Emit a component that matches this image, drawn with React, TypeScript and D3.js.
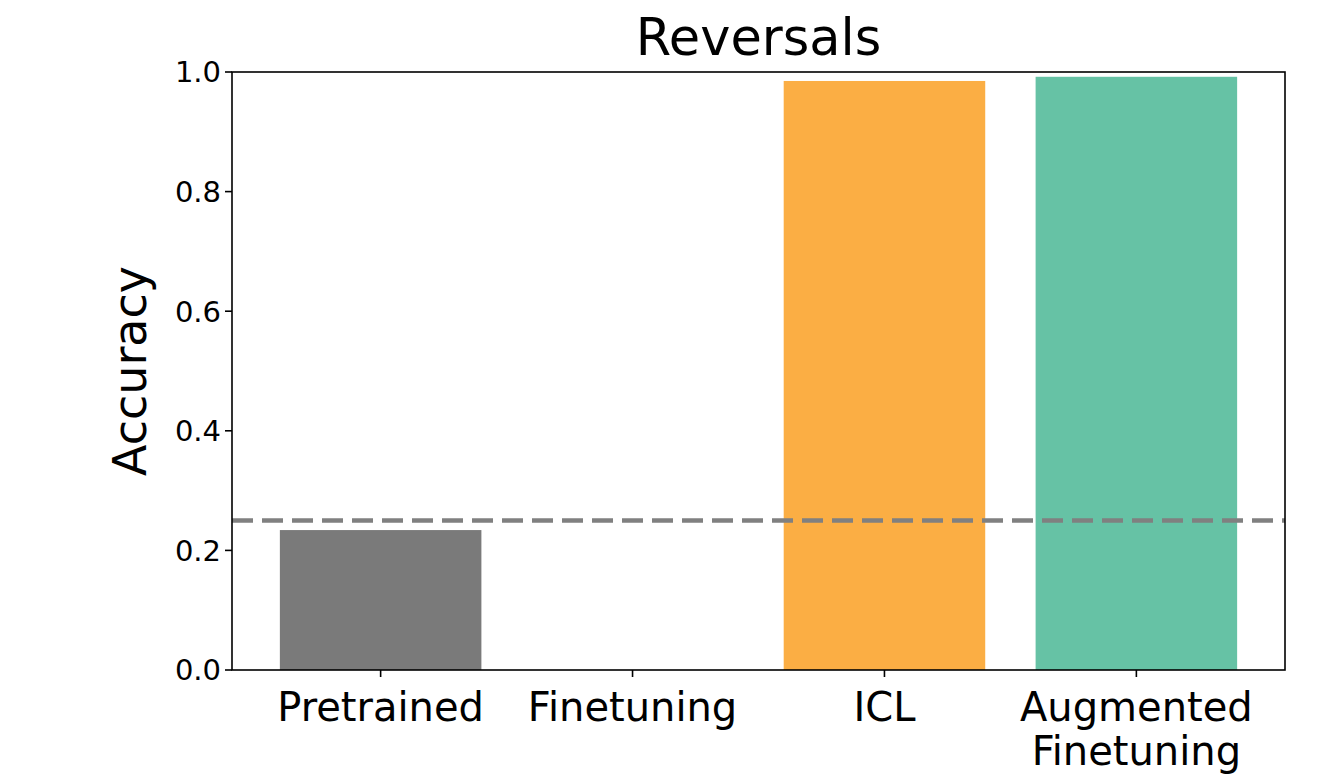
import React from "react";
import * as d3 from "d3";

const categories = ["Pretrained", "Finetuning", "ICL", "Augmented\nFinetuning"];
const values = [0.234, 0.0, 0.985, 0.992];
const colors = ["#7a7a7a", "#7a7a7a", "#fbae44", "#66c2a5"];
const yTicks = [0.0, 0.2, 0.4, 0.6, 0.8, 1.0];
const chanceLevel = 0.25;
const title = "Reversals";
const yLabel = "Accuracy";

const W = 1334;
const H = 782;
const M = { left: 232, right: 1285, top: 72, bottom: 670 };
const FONT = "'DejaVu Sans', sans-serif";

export default function App() {
  const x = d3
    .scaleLinear()
    .domain([-0.59, categories.length - 1 + 0.59])
    .range([M.left, M.right]);
  const y = d3.scaleLinear().domain([0, 1]).range([M.bottom, M.top]);
  const barW = x(0.8) - x(0);

  return (
    <svg
      width={W}
      height={H}
      style={{ position: "absolute", left: 0, top: 0, background: "#fff" }}
      fontFamily={FONT}
    >
      <rect x={0} y={0} width={W} height={H} fill="#fff" />
      {values.map((v, i) => (
        <rect
          key={i}
          x={x(i) - barW / 2}
          y={y(v)}
          width={barW}
          height={y(0) - y(v)}
          fill={colors[i]}
        />
      ))}
      <line
        x1={M.left}
        x2={M.right}
        y1={y(chanceLevel)}
        y2={y(chanceLevel)}
        stroke="#808080"
        strokeWidth={4.5}
        strokeDasharray="21 9"
      />
      <rect
        x={M.left}
        y={M.top}
        width={M.right - M.left}
        height={M.bottom - M.top}
        fill="none"
        stroke="#000"
        strokeWidth={1.6}
      />
      {yTicks.map((t) => (
        <g key={t}>
          <line x1={M.left - 7} x2={M.left} y1={y(t)} y2={y(t)} stroke="#000" strokeWidth={1.6} />
          <text
            x={M.left - 11}
            y={y(t)}
            dy="0.36em"
            textAnchor="end"
            fontSize={29}
            fill="#000"
          >
            {d3.format(".1f")(t)}
          </text>
        </g>
      ))}
      {categories.map((c, i) => (
        <g key={c}>
          <line x1={x(i)} x2={x(i)} y1={M.bottom} y2={M.bottom + 7} stroke="#000" strokeWidth={1.6} />
          <text x={x(i)} y={M.bottom + 51} textAnchor="middle" fontSize={40} fill="#000">
            {c.split("\n").map((line, j) => (
              <tspan key={j} x={x(i)} dy={j === 0 ? 0 : 44}>
                {line}
              </tspan>
            ))}
          </text>
        </g>
      ))}
      <text x={(M.left + M.right) / 2} y={55} textAnchor="middle" fontSize={51} fill="#000">
        {title}
      </text>
      <text
        transform={`translate(146, ${(M.top + M.bottom) / 2}) rotate(-90)`}
        textAnchor="middle"
        fontSize={46}
        fill="#000"
      >
        {yLabel}
      </text>
    </svg>
  );
}
